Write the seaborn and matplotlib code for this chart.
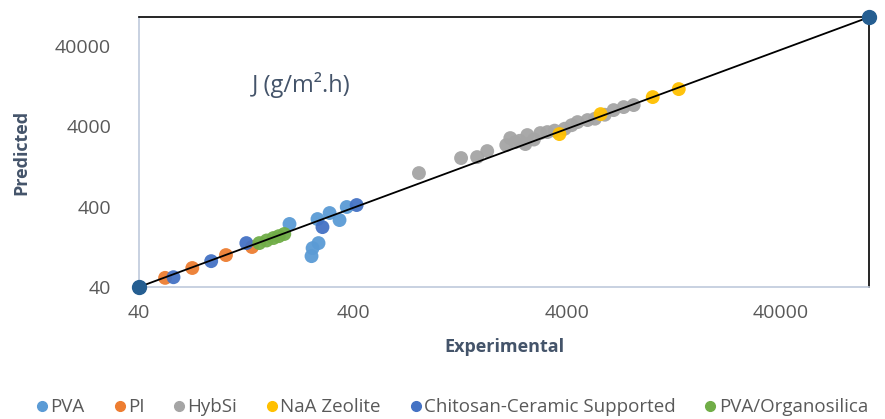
import matplotlib
matplotlib.use("Agg")
import matplotlib.pyplot as plt
import seaborn as sns
import pandas as pd

sns.set_theme(style="white")
plt.rcParams['font.family'] = ['Open Sans', 'DejaVu Sans']

# ---- data (experimental, predicted) ----
pva_x = [202, 273, 311, 346, 374, 276, 259, 256]
pva_y = [244, 281, 334, 273, 397, 141, 122, 97]

pi_x = [53, 71, 102, 135]
pi_y = [52, 69, 100, 126]

hyb_x = [813, 1279, 1520, 1694, 2080, 2292, 2553, 2172, 2609, 3000, 3236, 2800,
         3500, 3900, 4200, 4477, 4985, 5400, 6000, 6600, 7352, 8190, 2400]
hyb_y = [1051, 1617, 1663, 1975, 2345, 2557, 2415, 2867, 3127, 3310, 3406, 2750,
         3550, 3750, 4150, 4536, 4808, 5000, 5600, 6400, 6977, 7388, 2650]

naa_x = [3684, 5737, 10050, 13300]
naa_y = [3217, 5705, 9296, 11690]

chi_x = [58, 87, 127, 288, 416]
chi_y = [53, 84, 141, 223, 420]

org_x = [146, 158, 170, 180, 191]
org_y = [141, 152, 163, 172, 183]

ref_x = [40, 103000]
ref_y = [40, 92000]

series = [
    ("PVA", pva_x, pva_y, "#5B9BD5"),
    ("PI", pi_x, pi_y, "#ED7D31"),
    ("HybSi", hyb_x, hyb_y, "#A5A5A5"),
    ("NaA Zeolite", naa_x, naa_y, "#FFC000"),
    ("Chitosan-Ceramic Supported", chi_x, chi_y, "#4472C4"),
    ("PVA/Organosilica", org_x, org_y, "#70AD47"),
]

rows = []
for name, xs, ys, _ in series:
    for a, b in zip(xs, ys):
        rows.append({"Experimental": a, "Predicted": b, "Membrane": name})
df = pd.DataFrame(rows)
palette = {name: c for name, _, _, c in series}

fig = plt.figure(figsize=(8.85, 4.19), dpi=100)
ax = fig.add_axes([0.157, 0.315, 0.825, 0.644])

sns.scatterplot(data=df, x="Experimental", y="Predicted", hue="Membrane",
                palette=palette, s=100, edgecolor="none", ax=ax, zorder=2,
                alpha=0.95)
ref = pd.DataFrame({"x": ref_x, "y": ref_y})
sns.lineplot(data=ref, x="x", y="y", color="black", lw=1.3, ax=ax, zorder=3)
ax.scatter(ref_x, ref_y, s=100, color="#255E91", zorder=4, clip_on=False)

ax.set_xscale("log")
ax.set_yscale("log")
ax.set_xlim(ref_x[0], ref_x[1])
ax.set_ylim(ref_y[0], ref_y[1])
ticks = [40, 400, 4000, 40000]
ax.set_xticks(ticks)
ax.set_yticks(ticks)
ax.set_xticklabels([str(t) for t in ticks])
ax.set_yticklabels([str(t) for t in ticks])
ax.minorticks_off()
ax.tick_params(axis="both", labelsize=14, colors="#595959", length=0)
ax.tick_params(axis="x", pad=12)
ax.tick_params(axis="y", pad=20)

for s in ["left", "bottom"]:
    ax.spines[s].set_color("#BFCADB")
    ax.spines[s].set_linewidth(1.2)
for s in ["top", "right"]:
    ax.spines[s].set_color("black")
    ax.spines[s].set_linewidth(1.2)

ax.set_xlabel("Experimental", fontsize=13, fontweight="bold", color="#44546A", labelpad=12)
ax.set_ylabel("Predicted", fontsize=13, fontweight="bold", color="#44546A", labelpad=18)

ax.text(0.155, 0.75, "J (g/m\u00b2.h)", transform=ax.transAxes, fontsize=17,
        color="#44546A", ha="left", va="center")

ax.get_legend().remove()
handles = [plt.Line2D([], [], marker="o", ls="none", color=c, markersize=7)
           for _, _, _, c in series]
labels = [n for n, _, _, _ in series]
fig.legend(handles, labels, loc="center", bbox_to_anchor=(0.51, 0.028), ncol=6,
           frameon=False, fontsize=13.5, handletextpad=0.05, columnspacing=1.45,
           labelcolor="#595959", handlelength=0.8)

fig.savefig("out.png", dpi=100)
